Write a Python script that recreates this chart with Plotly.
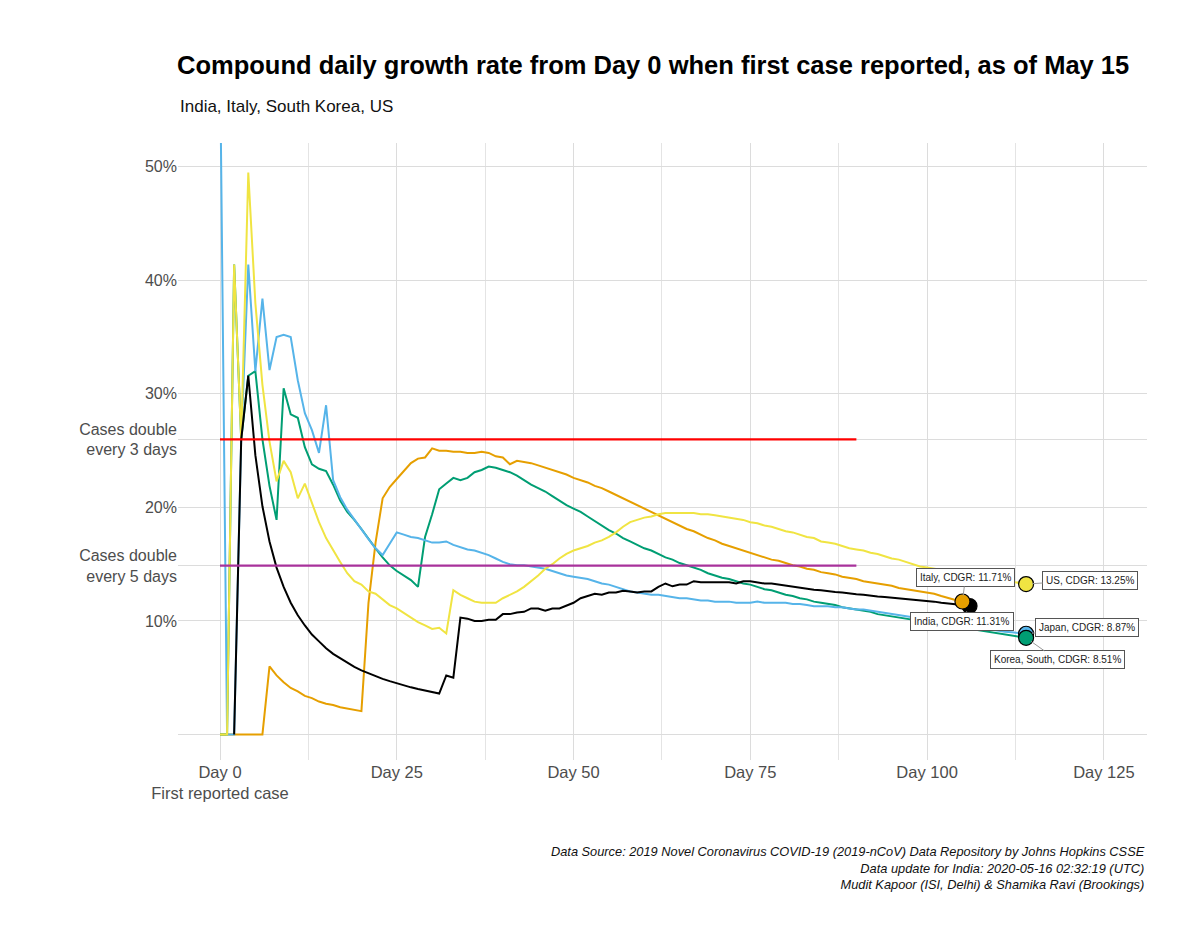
import plotly.graph_objects as go

# ---------------- data (CDGR in %, one value per day) ----------------
japan_start = 0
japan = [60, 0, 0, 26.0, 41.4, 32.0, 38.4, 32.1, 35.0, 35.2, 35.0, 31.2, 28.3, 26.8, 24.8, 29.0,
         22.4, 20.9, 19.8, 18.9, 18.0, 17.2, 16.4, 15.8, 16.8, 17.8, 17.6, 17.4, 17.3, 17.1,
         16.9, 16.9, 17.0, 16.7, 16.5, 16.3, 16.2, 16.0, 15.8, 15.5, 15.2, 15.0, 14.9, 14.9,
         14.8, 14.7, 14.6, 14.4, 14.2, 14.0, 13.9, 13.8, 13.7, 13.5, 13.3, 13.2, 13.0, 12.8,
         12.6, 12.5, 12.4, 12.3, 12.3, 12.2, 12.1, 12.0, 12.0, 11.9, 11.8, 11.8, 11.7, 11.7,
         11.7, 11.6, 11.6, 11.6, 11.7, 11.6, 11.6, 11.6, 11.6, 11.5, 11.5, 11.4, 11.3, 11.3,
         11.3, 11.2, 11.2, 11.1, 11.0, 11.0, 10.9, 10.8, 10.7, 10.6, 10.5, 10.4, 10.3, 10.2,
         10.1, 10.0, 9.9, 9.8, 9.7, 9.6, 9.5, 9.4, 9.3, 9.2, 9.1, 9.05, 9.0, 8.93, 8.87]

korea_start = 0
korea = [0, 0, 41.4, 26.0, 31.6, 32.0, 26.0, 21.9, 18.9, 30.5, 28.2, 27.9, 25.3, 23.8, 23.4,
         23.2, 22.0, 20.6, 19.6, 18.9, 18.1, 17.2, 16.4, 15.6, 14.9, 14.4, 14.0, 13.6, 13.0,
         17.4, 19.4, 21.6, 22.1, 22.6, 22.4, 22.6, 23.1, 23.3, 23.6, 23.5, 23.3, 23.1, 22.8,
         22.4, 22.0, 21.7, 21.4, 21.0, 20.6, 20.2, 19.9, 19.6, 19.2, 18.8, 18.4, 18.0, 17.7,
         17.3, 17.0, 16.7, 16.4, 16.2, 15.9, 15.6, 15.4, 15.1, 14.9, 14.7, 14.5, 14.2, 14.0,
         13.8, 13.7, 13.5, 13.3, 13.2, 13.0, 12.8, 12.7, 12.5, 12.3, 12.2, 12.0, 11.9, 11.7,
         11.6, 11.5, 11.4, 11.2, 11.1, 11.0, 10.9, 10.8, 10.6, 10.5, 10.4, 10.3, 10.2, 10.1,
         10.0, 9.9, 9.8, 9.7, 9.6, 9.5, 9.4, 9.3, 9.2, 9.1, 9.0, 8.9, 8.8, 8.7, 8.6, 8.51]

us_start = 0
us = [0, 0, 41.4, 26.0, 49.5, 38.0, 30.8, 25.8, 22.3, 24.1, 23.1, 20.8, 22.1, 20.3, 18.7,
      17.3, 16.2, 15.2, 14.2, 13.5, 13.2, 12.6, 12.4, 11.9, 11.4, 11.1, 10.7, 10.3, 9.9, 9.6,
      9.3, 9.4, 8.9, 12.7, 12.3, 12.0, 11.7, 11.6, 11.6, 11.6, 12.0, 12.3, 12.6, 13.0, 13.5,
      14.0, 14.6, 15.0, 15.5, 15.9, 16.2, 16.4, 16.6, 16.9, 17.1, 17.4, 17.8, 18.3, 18.7,
      18.9, 19.1, 19.2, 19.4, 19.5, 19.5, 19.5, 19.5, 19.5, 19.4, 19.4, 19.3, 19.2, 19.1,
      19.0, 18.9, 18.7, 18.6, 18.4, 18.3, 18.1, 17.9, 17.8, 17.6, 17.4, 17.3, 17.0, 16.9,
      16.8, 16.6, 16.4, 16.3, 16.2, 16.0, 15.9, 15.7, 15.5, 15.4, 15.2, 15.0, 14.8, 14.7,
      14.6, 14.5, 14.4, 14.3, 14.2, 14.1, 14.0, 13.9, 13.8, 13.65, 13.55, 13.45, 13.35, 13.25]

italy_start = 0
italy = [0, 0, 0, 0, 0, 0, 0, 6.0, 5.2, 4.6, 4.1, 3.8, 3.4, 3.2, 2.9, 2.7, 2.6, 2.4, 2.3, 2.2,
         2.05, 11.6, 16.9, 20.8, 21.8, 22.5, 23.2, 23.9, 24.3, 24.4, 25.2, 25.0, 25.0, 24.9,
         24.9, 24.8, 24.8, 24.9, 24.8, 24.5, 24.4, 23.8, 24.1, 24.0, 23.9, 23.7, 23.5, 23.3,
         23.1, 22.9, 22.6, 22.4, 22.2, 21.9, 21.7, 21.4, 21.1, 20.8, 20.5, 20.2, 19.9, 19.6,
         19.3, 19.0, 18.7, 18.4, 18.1, 17.9, 17.6, 17.3, 17.1, 16.8, 16.6, 16.4, 16.2, 16.0,
         15.8, 15.6, 15.4, 15.3, 15.1, 14.9, 14.8, 14.6, 14.5, 14.3, 14.2, 14.1, 13.9, 13.8,
         13.7, 13.5, 13.4, 13.3, 13.2, 13.1, 12.9, 12.8, 12.7, 12.6, 12.5, 12.4, 12.2, 12.0,
         11.85, 11.71]

india_start = 2
india = [0, 26.0, 31.6, 24.6, 20.1, 17.0, 14.7, 13.0, 11.6, 10.5, 9.6, 8.8, 8.2, 7.6, 7.1, 6.7,
         6.3, 5.95, 5.65, 5.4, 5.1, 4.9, 4.7, 4.5, 4.3, 4.15, 4.0, 3.86, 3.73, 3.6, 5.2, 5.0,
         10.3, 10.2, 10.0, 10.0, 10.1, 10.1, 10.6, 10.6, 10.75, 10.8, 11.1, 11.1, 10.9, 11.1,
         11.1, 11.35, 11.6, 12.0, 12.2, 12.4, 12.3, 12.5, 12.5, 12.65, 12.6, 12.5, 12.6, 12.6,
         13.0, 13.3, 13.05, 13.2, 13.2, 13.5, 13.4, 13.4, 13.4, 13.4, 13.4, 13.3, 13.5, 13.5,
         13.4, 13.3, 13.3, 13.2, 13.1, 13.0, 12.9, 12.8, 12.75, 12.7, 12.6, 12.55, 12.5, 12.4,
         12.35, 12.3, 12.2, 12.15, 12.1, 12.05, 12.0, 11.95, 11.9, 11.8, 11.75, 11.7, 11.6,
         11.55, 11.45, 11.4, 11.31]

label_countries = ["India", "Italy", "US", "Japan", "Korea, South"]
label_cdgr = [11.31, 11.71, 13.25, 8.87, 8.51]
label_day = [106, 105, 114, 114, 114]

double3_rate = 25.99
double5_rate = 14.87
ref_days = [0, 90]

y_tickvals = [0, 10, double5_rate, 20, double3_rate, 30, 40, 50]
y_ticktext = ["", "10%", "Cases double<br>every 5 days", "20%", "Cases double<br>every 3 days",
              "30%", "40%", "50%"]
x_tickvals = [0, 25, 50, 75, 100, 125]
x_ticktext = ["Day 0<br>First reported case", "Day 25", "Day 50", "Day 75", "Day 100", "Day 125"]

# ---------------- figure ----------------
FONT = "Liberation Sans, Arial, sans-serif"
colors = {"India": "#000000", "Italy": "#E69F00", "US": "#F0E442",
          "Japan": "#56B4E9", "Korea, South": "#009E73"}

series = [("Italy", italy_start, italy), ("Korea, South", korea_start, korea),
          ("Japan", japan_start, japan), ("US", us_start, us), ("India", india_start, india)]

fig = go.Figure()
for name, start, vals in series:
    fig.add_trace(go.Scatter(x=list(range(start, start + len(vals))), y=vals, mode="lines",
                             line=dict(color=colors[name], width=2), name=name,
                             showlegend=False, hoverinfo="skip"))

fig.add_trace(go.Scatter(x=ref_days, y=[double3_rate] * 2, mode="lines",
                         line=dict(color="#FF0000", width=2.2), showlegend=False))
fig.add_trace(go.Scatter(x=ref_days, y=[double5_rate] * 2, mode="lines",
                         line=dict(color="#A8329B", width=2.2), showlegend=False))

for name, d, v in zip(label_countries, label_day, label_cdgr):
    fig.add_trace(go.Scatter(x=[d], y=[v], mode="markers",
                             marker=dict(size=15, color=colors[name],
                                         line=dict(color="#000000", width=1.2)),
                             showlegend=False, cliponaxis=False))

label_offsets = {"India": (-8, 15), "Italy": (3, -24), "US": (64, -4),
                 "Japan": (61, -6), "Korea, South": (31, 22)}
for name, d, v in zip(label_countries, label_day, label_cdgr):
    ax, ay = label_offsets[name]
    fig.add_annotation(x=d, y=v, xref="x", yref="y", text=f"{name}, CDGR: {v:.2f}%",
                       showarrow=True, arrowhead=0, arrowwidth=1, arrowcolor="#999999",
                       ax=ax, ay=ay, standoff=6,
                       font=dict(family=FONT, size=10, color="#222222"),
                       bgcolor="white", bordercolor="#555555", borderwidth=1, borderpad=3)

fig.add_annotation(xref="paper", yref="paper", x=0, y=1, yshift=37, xanchor="left", yanchor="middle",
                   text="India, Italy, South Korea, US", showarrow=False,
                   font=dict(family=FONT, size=17, color="#111111"))
fig.add_annotation(xref="paper", yref="paper", x=1, y=0, yshift=-82, xanchor="right", yanchor="top",
                   align="right", showarrow=False,
                   text="<i>Data Source: 2019 Novel Coronavirus COVID-19 (2019-nCoV) Data Repository by Johns Hopkins CSSE</i><br>"
                        "<i>Data update for India: 2020-05-16 02:32:19 (UTC)</i><br>"
                        "<i>Mudit Kapoor (ISI, Delhi) &amp; Shamika Ravi (Brookings)</i>",
                   font=dict(family=FONT, size=12.8, color="#111111"))

# page body has an 8px margin: figure is sized/offset to compensate
fig.update_layout(
    width=1192, height=936,
    paper_bgcolor="white", plot_bgcolor="white",
    margin=dict(l=170, r=53, t=135, b=184),
    title=dict(text="<b>Compound daily growth rate from Day 0 when first case reported, as of May 15</b>",
               x=169 / 1192, xanchor="left", xref="container", y=1 - 57 / 936, yanchor="middle",
               font=dict(family=FONT, size=25.5, color="#000000")),
    xaxis=dict(range=[-5.94, 131.1], tickvals=x_tickvals, ticktext=x_ticktext,
               showgrid=True, gridcolor="#dcdcdc", gridwidth=1, zeroline=False, showline=False,
               ticks="", tickfont=dict(family=FONT, size=16.5, color="#4d4d4d"),
               minor=dict(tickvals=[12.5, 37.5, 62.5, 87.5, 112.5], showgrid=True, gridcolor="#e4e4e4", gridwidth=1)),
    yaxis=dict(range=[-2.25, 52.1], tickvals=y_tickvals, ticktext=y_ticktext,
               showgrid=True, gridcolor="#dcdcdc", gridwidth=1, zeroline=False, showline=False,
               ticks="", tickfont=dict(family=FONT, size=16, color="#4d4d4d")),
)

fig.write_html("out.html")
